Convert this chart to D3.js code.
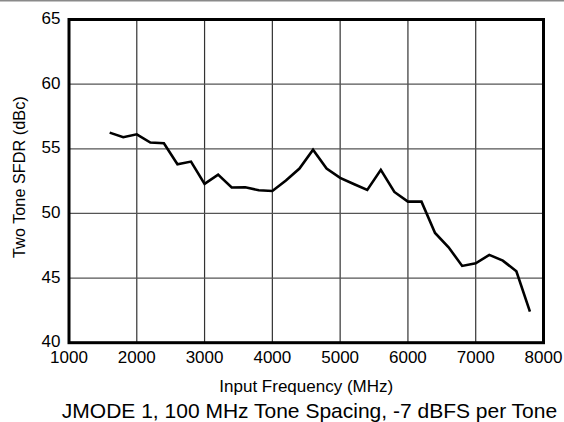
<!DOCTYPE html>
<html>
<head>
<meta charset="utf-8">
<script src="https://cdn.jsdelivr.net/npm/d3@7"></script>
<style>
  html, body { margin: 0; padding: 0; background: #fff; }
  svg { display: block; }
  text { font-family: Arial, "Liberation Sans", sans-serif; fill: #000; }
</style>
</head>
<body>
<div id="chart"></div>
<script>
// input frequency (MHz) and two tone SFDR (dBc)
var freqs = [1600, 1800, 2000, 2200, 2400, 2600, 2800, 3000, 3200, 3400, 3600, 3800, 4000,
             4200, 4400, 4600, 4800, 5000, 5200, 5400, 5600, 5800, 6000, 6200, 6400, 6600,
             6800, 7000, 7200, 7400, 7600, 7800];
var sfdr = [56.25, 55.89, 56.12, 55.48, 55.43, 53.8, 54.01, 52.28, 53.0, 52.0, 52.02, 51.79, 51.74,
            52.54, 53.47, 54.92, 53.47, 52.75, 52.28, 51.82, 53.37, 51.66, 50.91, 50.91, 48.49, 47.38,
            45.94, 46.14, 46.79, 46.35, 45.52, 42.4];
var xTicks = [1000, 2000, 3000, 4000, 5000, 6000, 7000, 8000];
var yTicks = [40, 45, 50, 55, 60, 65];

var W = 564, H = 422;
// note: "top" is taken by window.top, so plot edges get a prefix
var plotL = 69, plotR = 543.5, plotT = 19.5, plotB = 342.7;

var svg = d3.select("#chart").append("svg").attr("width", W).attr("height", H);

// thin gray rule at the very top of the picture
svg.append("rect").attr("x", 0).attr("y", 0).attr("width", W).attr("height", 1.5).attr("fill", "#8a8a8a");

var x = d3.scaleLinear().domain([1000, 8000]).range([plotL, plotR]);
var y = d3.scaleLinear().domain([40, 65]).range([plotB, plotT]);

// grid
svg.append("g").selectAll("line").data(xTicks.slice(1, -1)).enter().append("line")
  .attr("x1", d => x(d)).attr("x2", d => x(d)).attr("y1", plotT).attr("y2", plotB)
  .attr("stroke", "#333").attr("stroke-width", 1.2);
svg.append("g").selectAll("line").data(yTicks.slice(1, -1)).enter().append("line")
  .attr("y1", d => y(d)).attr("y2", d => y(d)).attr("x1", plotL).attr("x2", plotR)
  .attr("stroke", "#555").attr("stroke-width", 1.2);

// frame
svg.append("rect").attr("x", plotL).attr("y", plotT).attr("width", plotR - plotL).attr("height", plotB - plotT)
  .attr("fill", "none").attr("stroke", "#000").attr("stroke-width", 3);

// tick labels
svg.append("g").selectAll("text").data(yTicks).enter().append("text")
  .attr("x", 60.5).attr("y", d => y(d)).attr("dy", "0.27em")
  .attr("text-anchor", "end").attr("font-size", 17).text(d => d);
svg.append("g").selectAll("text").data(xTicks).enter().append("text")
  .attr("x", d => x(d)).attr("y", 363)
  .attr("text-anchor", "middle").attr("font-size", 17).text(d => d);

// axis titles
svg.append("text").attr("x", (plotL + plotR) / 2).attr("y", 392)
  .attr("text-anchor", "middle").attr("font-size", 17).text("Input Frequency (MHz)");
svg.append("text").attr("transform", "translate(25," + ((plotT + plotB) / 2 - 4) + ") rotate(-90)")
  .attr("text-anchor", "middle").attr("font-size", 16.3).text("Two Tone SFDR (dBc)");

// caption
svg.append("text").attr("x", 309.5).attr("y", 418)
  .attr("text-anchor", "middle").attr("font-size", 21).text("JMODE 1, 100 MHz Tone Spacing, -7 dBFS per Tone");

// data line
var line = d3.line().x((d, i) => x(freqs[i])).y(d => y(d));
svg.append("path").datum(sfdr).attr("d", line)
  .attr("fill", "none").attr("stroke", "#000").attr("stroke-width", 2.6).attr("stroke-linejoin", "miter");
</script>
</body>
</html>
